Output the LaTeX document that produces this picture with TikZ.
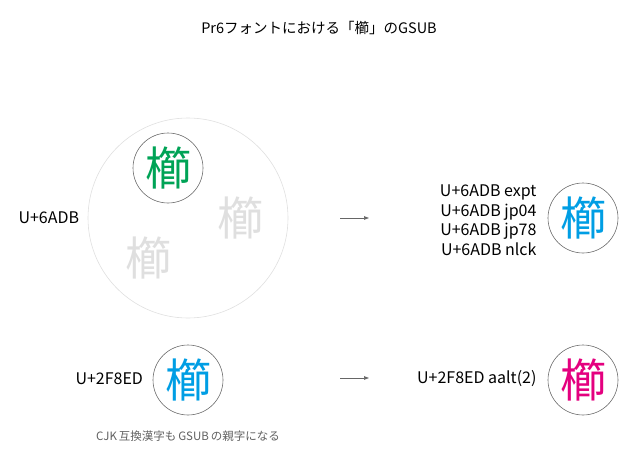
\documentclass[tikz,border=0pt]{standalone}
\usepackage{fontspec}
\setmainfont{Noto Sans CJK JP}
\usetikzlibrary{arrows.meta}
\definecolor{kushigreen}{RGB}{0,163,86}
\definecolor{kushiblue}{RGB}{0,158,228}
\definecolor{kushimagenta}{RGB}{228,0,127}
\begin{document}
\begin{tikzpicture}[
  x=1pt, y=-1pt,
  ring/.style    = {circle, draw=gray!85!black, line width=0.6pt, minimum size=70pt, inner sep=0pt},
  glyph/.style   = {font=\fontsize{46}{46}\selectfont},
  code/.style    = {font=\fontsize{16}{19.5}\selectfont},
  note/.style    = {font=\fontsize{11.5}{13}\selectfont, text=gray!75!black},
  flow/.style    = {-{Triangle[length=5pt,width=3.5pt]}, gray!80!black, line width=0.7pt}
]
\useasboundingbox (0,0) rectangle (637,458);

% ---- title ----
\node[font=\fontsize{14.5}{16}\selectfont] (title) at (319,28) {Pr6フォントにおける「櫛」のGSUB};

% ---- upper row: U+6ADB ----
\node[circle, draw=gray!25, line width=0.6pt, minimum size=200pt, inner sep=0pt] (pool) at (188,218) {};
\node[code, anchor=west] (cp1) at (15,218) {U+6ADB};
\node[ring] (src1) at (168,168) {};
\node[glyph, text=kushigreen] (g1) at (src1) {櫛};
\node[glyph, text=gray!25] (alt1) at (240,218) {櫛};
\node[glyph, text=gray!25] (alt2) at (148,258) {櫛};
\coordinate (a1) at (340,218);
\coordinate (b1) at (369,218);
\draw[flow] (a1) -- (b1);
\node[code, anchor=east, align=right] (feat1) at (540,220)
  {U+6ADB expt\\U+6ADB jp04\\U+6ADB jp78\\U+6ADB nlck};
\node[ring] (dst1) at (583,218) {};
\node[glyph, text=kushiblue] (g2) at (dst1) {櫛};

% ---- lower row: U+2F8ED ----
\node[code, anchor=west] (cp2) at (72,379) {U+2F8ED};
\node[ring] (src2) at (188,380) {};
\node[glyph, text=kushiblue] (g3) at (src2) {櫛};
\node[note] (caption) at (188,436) {CJK\,互換漢字も\,GSUB\,の親字になる};
\coordinate (a2) at (340,378);
\coordinate (b2) at (369,378);
\draw[flow] (a2) -- (b2);
\node[code, anchor=east] (feat2) at (540,379) {U+2F8ED aalt(2)};
\node[ring] (dst2) at (583,380) {};
\node[glyph, text=kushimagenta] (g4) at (dst2) {櫛};

\end{tikzpicture}
\end{document}
